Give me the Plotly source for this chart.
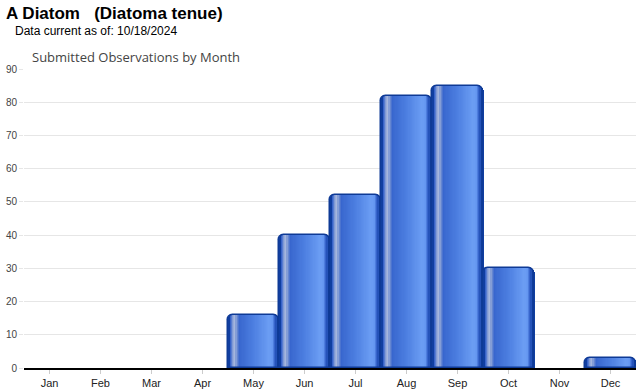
import plotly.graph_objects as go

months = ["Jan", "Feb", "Mar", "Apr", "May", "Jun", "Jul", "Aug", "Sep", "Oct", "Nov", "Dec"]
observations = [0, 0, 0, 0, 16, 40, 52, 82, 85, 30, 0, 3]
y_ticks = [0, 10, 20, 30, 40, 50, 60, 70, 80, 90]

title_main = "A Diatom\u00a0\u00a0\u00a0(Diatoma tenue)"
title_sub = "Data current as of: 10/18/2024"
chart_title = "Submitted Observations by Month"

# gradient stops across a bar (fraction, rgb)
stops = [
    (0.00, (16, 62, 160)),
    (0.03, (40, 82, 190)),
    (0.06, (62, 106, 205)),
    (0.10, (132, 156, 214)),
    (0.14, (170, 186, 222)),
    (0.18, (112, 142, 210)),
    (0.23, (56, 102, 206)),
    (0.50, (76, 126, 224)),
    (0.82, (108, 158, 244)),
    (0.88, (100, 150, 240)),
    (0.93, (50, 96, 200)),
    (0.97, (22, 68, 168)),
    (1.00, (16, 62, 160)),
]


def color_at(f):
    for (f0, c0), (f1, c1) in zip(stops[:-1], stops[1:]):
        if f0 <= f <= f1:
            t = (f - f0) / (f1 - f0) if f1 > f0 else 0
            c = [round(a + (b - a) * t) for a, b in zip(c0, c1)]
            return "rgb(%d,%d,%d)" % tuple(c)
    return "rgb(16,62,160)"


line_w = [1.5 if v > 0 else 0 for v in observations]

fig = go.Figure()

# base (dark edge) with rounded corners
fig.add_trace(go.Bar(
    x=months, y=observations, width=1.04, offset=-0.52,
    marker=dict(color="rgb(16,62,160)", cornerradius=6, line=dict(width=0)),
    hoverinfo="skip", showlegend=False,
))

lo, hi = 0.04, 0.96
n = 40
step = (hi - lo) / n
for i in range(n):
    f = lo + (i + 0.5) * step
    fig.add_trace(go.Bar(
        x=months, y=observations, width=step * 1.2, offset=-0.5 + lo + i * step,
        marker=dict(color=color_at(f), line=dict(width=0)),
        hoverinfo="skip", showlegend=False,
    ))

# outline
fig.add_trace(go.Bar(
    x=months, y=observations, width=1.0, offset=-0.5,
    marker=dict(color="rgba(0,0,0,0)", cornerradius=6,
                line=dict(color="rgb(14,58,150)", width=line_w)),
    showlegend=False, name="Observations",
))

W, H = 640, 390
ml, mr, mt, mb = 24, 4, 69, 22
pw = W - ml - mr
ph = H - mt - mb


def px(xp):
    return (xp - ml) / pw


def py(yp):
    return (H - mb - yp) / ph


fig.update_layout(
    width=W, height=H,
    margin=dict(l=ml, r=mr, t=mt, b=mb, autoexpand=False),
    barmode="overlay",
    paper_bgcolor="white", plot_bgcolor="white",
    font=dict(family="Arial, Liberation Sans", color="#222"),
    annotations=[
        dict(text="<b>%s</b>" % title_main, xref="paper", yref="paper",
             x=px(4), y=py(14), xanchor="left", yanchor="middle", showarrow=False,
             font=dict(size=17, color="#000", family="Arial, Liberation Sans")),
        dict(text=title_sub, xref="paper", yref="paper",
             x=px(13), y=py(31.5), xanchor="left", yanchor="middle", showarrow=False,
             font=dict(size=12, color="#000", family="Arial, Liberation Sans")),
        dict(text=chart_title, xref="paper", yref="paper",
             x=px(30), y=py(57), xanchor="left", yanchor="middle", showarrow=False,
             font=dict(size=13, color="#444", family="Open Sans")),
    ],
    xaxis=dict(
        type="category", categoryarray=months, range=[-0.5, 11.5],
        showgrid=False, showline=True, linecolor="#000", linewidth=2,
        ticks="outside", ticklen=4, tickcolor="#ccc", automargin=False,
        tickfont=dict(size=11, color="#222"), zeroline=False,
    ),
    yaxis=dict(
        range=[0, 90], tickvals=y_ticks, showgrid=True, gridcolor="#e6e6e6",
        ticks="outside", ticklen=4, tickcolor="#e6e6e6", automargin=False,
        tickfont=dict(size=10, color="#444"), zeroline=False, showline=False,
    ),
    bargap=0,
)

fig.write_html(
    "out.html",
    config={"displayModeBar": False},
    post_script="document.body.style.margin='0';document.body.style.overflow='hidden';",
)
